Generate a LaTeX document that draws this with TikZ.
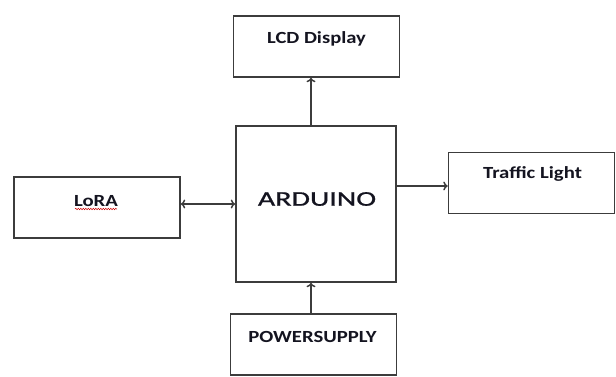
\documentclass[tikz,border=0pt]{standalone}
\usepackage{fontspec}
\setmainfont{Carlito}
\newfontfamily\ardfont[FakeBold=0.7]{Carlito}
\usetikzlibrary{arrows.meta,decorations.pathmorphing}
\definecolor{linec}{HTML}{3C3C3C}
\definecolor{txtc}{HTML}{141420}
\newcommand{\widetxt}[2]{\scalebox{#1}[1]{#2}}
\tikzset{
  blk/.style={draw=linec,line width=1.5pt,fill=white,inner sep=0pt,minimum width=166pt,minimum height=61pt},
  lbl/.style={text=txtc,font=\bfseries\fontsize{17}{19}\selectfont,inner sep=0pt},
  conn/.style={draw=linec,line width=1.5pt,-{To[length=4.5pt,width=9pt]}},
  bconn/.style={draw=linec,line width=1.5pt,{To[length=4.5pt,width=9pt]}-{To[length=4.5pt,width=9pt]}}
}
\begin{document}
\begin{tikzpicture}[x=1pt,y=-1pt]
\useasboundingbox[fill=white] (0,0) rectangle (616,376);
\node[blk] (lcd) at (316.5,46.5) {};
\node[blk,minimum width=160pt,minimum height=156pt] (ard) at (316,204) {};
\node[blk] (traf) at (531.5,183) {};
\node[blk] (lora) at (97,207.5) {};
\node[blk] (pwr) at (313.5,344.5) {};
\node[lbl] (lcdt) at (316.5,39) {\widetxt{1.21}{LCD Display}};
\node[text=txtc,font=\ardfont\fontsize{21}{24}\selectfont,inner sep=0pt] (ardt) at (317,199) {\widetxt{1.43}{ARDUINO}};
\node[lbl] (traft) at (532.5,174) {\widetxt{1.22}{Traffic Light}};
\node[lbl] (lorat) at (96,201) {\widetxt{1.22}{LoRA}};
\node[lbl] (pwrt) at (312.5,337) {\widetxt{1.22}{POWERSUPPLY}};
\coordinate (ulA) at (75,209);
\coordinate (ulB) at (117,209);
\draw[red!80!black,line width=0.5pt,decorate,decoration={snake,amplitude=0.7pt,segment length=2.5pt}] (ulA) -- (ulB);
\draw[conn] ([xshift=-5pt]ard.north) -- ([xshift=-5pt]ard.north |- lcd.south);
\draw[conn] ([xshift=-2.5pt]pwr.north) -- ([xshift=-2.5pt]pwr.north |- ard.south);
\draw[bconn] ([yshift=3.5pt]lora.east) -- ([yshift=3.5pt]lora.east -| ard.west);
\draw[conn] ([yshift=-3pt]traf.west -| ard.east) -- ([yshift=-3pt]traf.west);
\end{tikzpicture}
\end{document}
